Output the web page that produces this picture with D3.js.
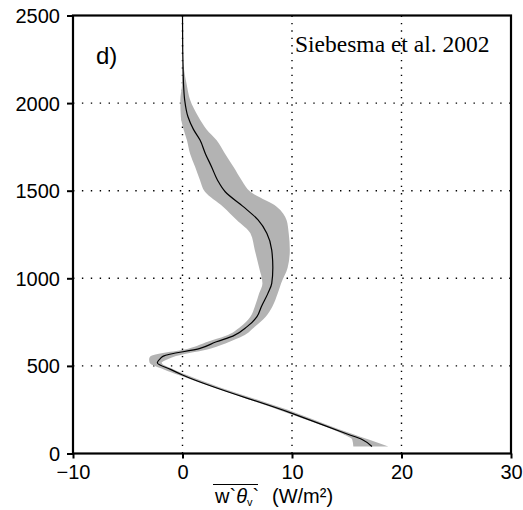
<!DOCTYPE html>
<html>
<head>
<meta charset="utf-8">
<script src="https://cdn.jsdelivr.net/npm/d3@7"></script>
<style>
  body { margin: 0; background: #fff; }
  text { font-family: "Liberation Sans", Arial, sans-serif; fill: #000; }
</style>
</head>
<body>
<svg id="chart" width="523" height="510"></svg>
<script>
// profile heights (m)
var heights = [40, 80, 110, 229, 448, 480, 518, 540, 556, 600, 638, 670, 724, 781, 838, 914, 971, 1060, 1161, 1257, 1333, 1409, 1494, 1560, 1637, 1710, 1789, 1850, 1922, 2017, 2100, 2207, 2300, 2500];
// mean flux
var meanFlux = [17.3, 16.4, 15.1, 10.0, 0.0, -1.1, -2.3, -2.05, -1.75, 1.6, 3.1, 4.6, 5.9, 6.8, 7.2, 7.8, 8.15, 8.25, 8.15, 7.7, 6.9, 5.55, 3.9, 3.2, 2.65, 2.1, 1.6, 1.0, 0.5, 0.2, 0.1, 0.05, 0.02, 0];
// spread of the models
var lowerFlux = [15.6, 15.5, 14.7, 9.7, -0.35, -1.7, -3.0, -3.05, -2.9, 0.6, 2.3, 3.9, 5.3, 6.2, 6.6, 7.0, 7.3, 7.0, 6.6, 6.2, 4.95, 3.7, 2.05, 1.6, 1.15, 0.7, 0.4, 0.1, -0.15, -0.2, -0.05, 0, 0, 0];
var upperFlux = [18.8, 17.0, 15.6, 10.5, 0.4, -0.8, -1.9, -1.3, -0.6, 2.6, 4.3, 5.5, 6.6, 7.6, 8.2, 8.7, 9.0, 9.6, 9.8, 9.7, 9.5, 8.6, 6.2, 5.4, 4.65, 3.9, 3.1, 2.2, 1.45, 0.7, 0.4, 0.1, 0, 0];

var xTicks = [-10, 0, 10, 20, 30];
var yTicks = [0, 500, 1000, 1500, 2000, 2500];

var mLeft = 73, mRight = 511, mTop = 15.5, mBottom = 453.5;
var svg = d3.select('#chart');

var x = d3.scaleLinear().domain([-10, 30]).range([mLeft, mRight]);
var y = d3.scaleLinear().domain([0, 2500]).range([mBottom, mTop]);

var pts = heights.map((h, i) => ({ z: h, m: meanFlux[i], lo: lowerFlux[i], hi: upperFlux[i] }));

// grid
svg.append('g').selectAll('line')
  .data([0, 10, 20]).enter().append('line')
  .attr('x1', d => x(d)).attr('x2', d => x(d))
  .attr('y1', mTop).attr('y2', mBottom)
  .attr('stroke', '#000').attr('stroke-width', 1.4)
  .attr('stroke-dasharray', '1.4,6');
svg.append('g').selectAll('line')
  .data([500, 1000, 1500, 2000]).enter().append('line')
  .attr('x1', mLeft).attr('x2', mRight)
  .attr('y1', d => y(d)).attr('y2', d => y(d))
  .attr('stroke', '#000').attr('stroke-width', 1.4)
  .attr('stroke-dasharray', '1.4,7.5');

// spread band
var band = d3.area()
  .y(d => y(d.z))
  .x0(d => x(d.lo))
  .x1(d => x(d.hi))
  .curve(d3.curveMonotoneY);
svg.append('path').datum(pts)
  .attr('d', band)
  .attr('fill', '#b3b3b3');

// mean line
var line = d3.line()
  .y(d => y(d.z))
  .x(d => x(d.m))
  .curve(d3.curveMonotoneY);
svg.append('path').datum(pts)
  .attr('d', line)
  .attr('fill', 'none')
  .attr('stroke', '#000')
  .attr('stroke-width', 1.2);

// axes
var xAxis = svg.append('g')
  .attr('transform', 'translate(0,' + mBottom + ')')
  .call(d3.axisBottom(x).tickValues(xTicks).tickSize(5).tickSizeOuter(0));
xAxis.select('.domain').remove();
xAxis.selectAll('line').attr('stroke-width', 2);
xAxis.selectAll('text').attr('dy', 0).attr('y', 25.5)
  .style('font-size', '20px').style('font-family', '"Liberation Sans", Arial, sans-serif');

var yAxis = svg.append('g')
  .attr('transform', 'translate(' + mLeft + ',0)')
  .call(d3.axisLeft(y).tickValues(yTicks).tickFormat(d3.format('d')).tickSize(6).tickSizeOuter(0));
yAxis.select('.domain').remove();
yAxis.selectAll('line').attr('stroke-width', 2);
yAxis.selectAll('text').attr('x', -13).attr('dy', '0.35em')
  .style('font-size', '20px').style('font-family', '"Liberation Sans", Arial, sans-serif');

// frame
svg.append('rect')
  .attr('x', mLeft).attr('y', mTop)
  .attr('width', mRight - mLeft).attr('height', mBottom - mTop)
  .attr('fill', 'none').attr('stroke', '#000').attr('stroke-width', 2.2);

// panel label and source
svg.append('text').attr('x', 96).attr('y', 64)
  .style('font-size', '24px').text('d)');
svg.append('text').attr('x', 295).attr('y', 52)
  .style('font-family', '"Liberation Serif", "Times New Roman", serif')
  .style('font-size', '23.5px').text('Siebesma et al. 2002');

// x title
var title = svg.append('text').attr('x', 215).attr('y', 503).style('font-size', '20px');
title.append('tspan').text('w');
title.append('tspan').text('`');
title.append('tspan').style('font-style', 'italic').text('θ');
title.append('tspan').style('font-size', '11px').attr('dy', 3).text('v');
title.append('tspan').attr('dy', -3).text('`');
svg.append('text').attr('x', 272).attr('y', 503).style('font-size', '20px').text('(W/m²)');
svg.append('line')
  .attr('x1', 213).attr('x2', 258).attr('y1', 484.5).attr('y2', 484.5)
  .attr('stroke', '#000').attr('stroke-width', 1.2);
</script>
</body>
</html>
